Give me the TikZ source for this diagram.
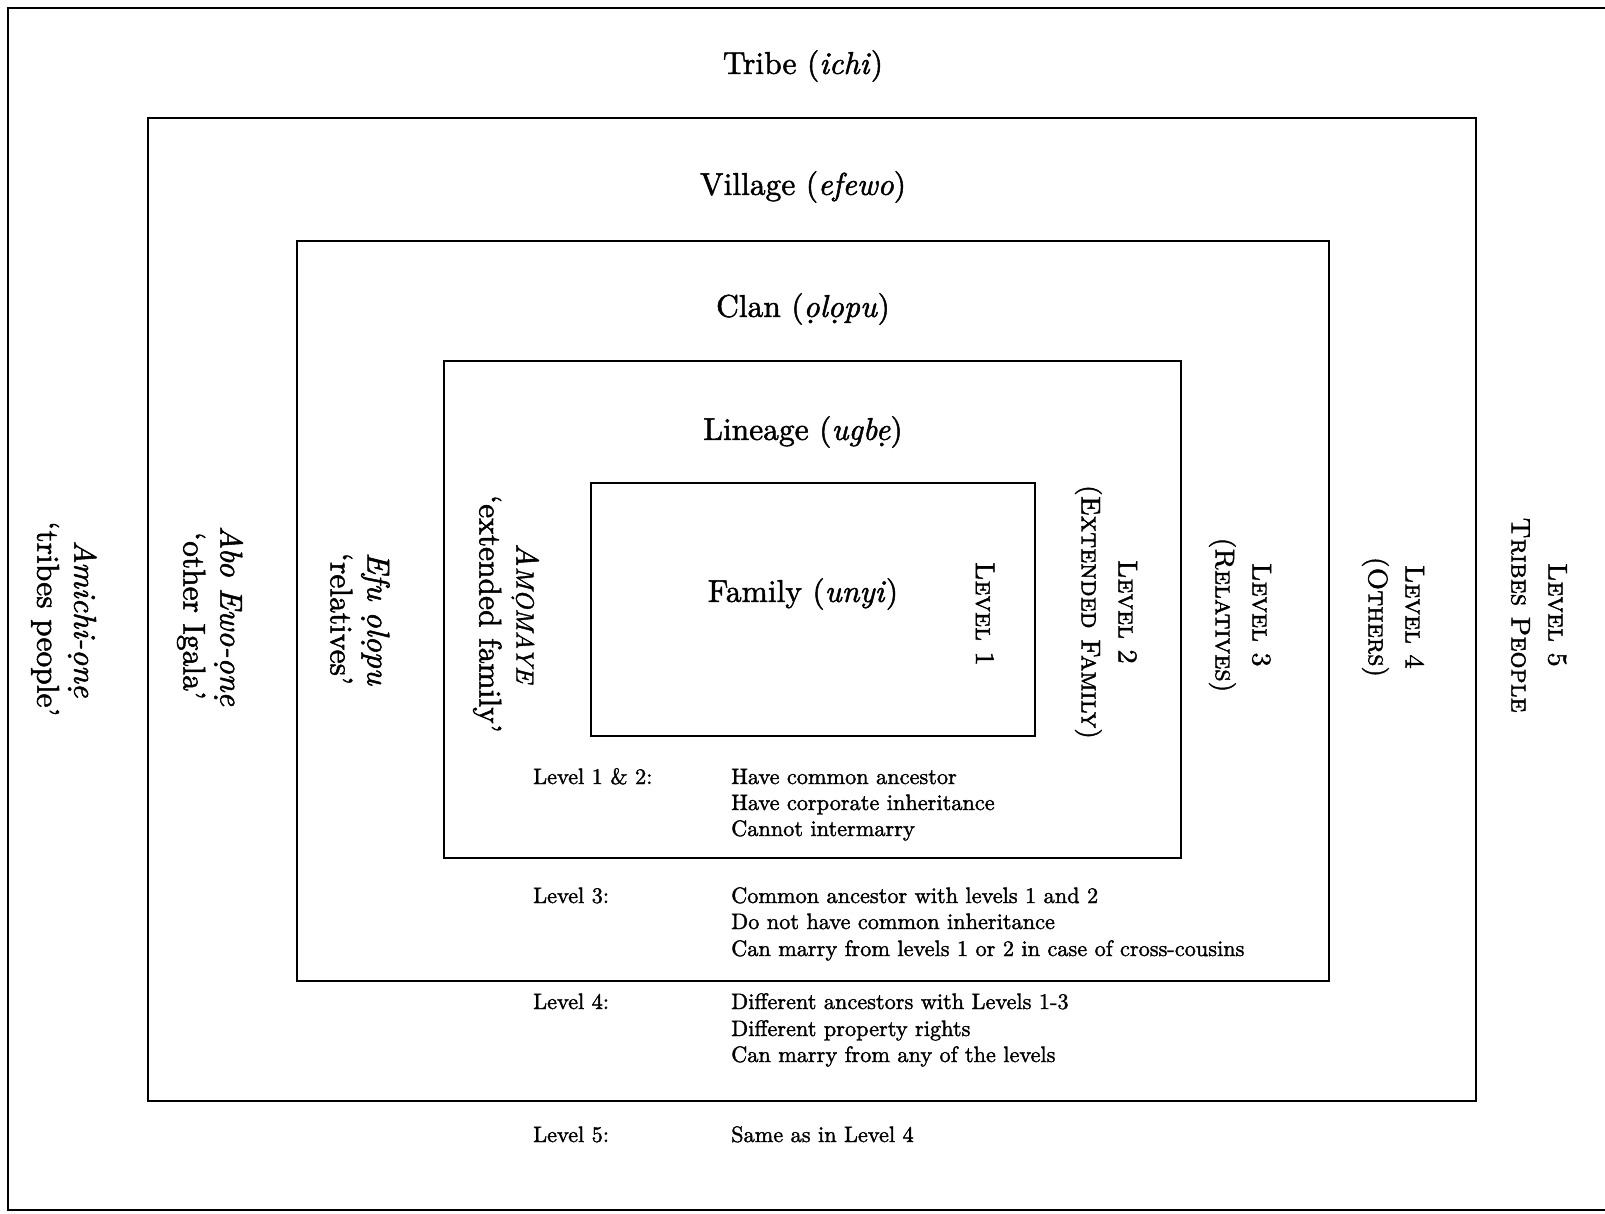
\documentclass[tikz,border=0pt]{standalone}
\usepackage{fontspec}
\setmainfont{lmroman10}[Extension=.otf, UprightFont=*-regular, ItalicFont=*-italic,
  BoldFont=*-bold, BoldItalicFont=*-bolditalic, SmallCapsFont=lmromancaps10-regular,
  FakeBold=1.6]
\begin{document}
\begin{tikzpicture}[x=1pt,y=-1pt,
  frame/.style={line width=2.2pt},
  ttl/.style={font=\fontsize{31.5}{38}\selectfont, inner sep=0pt},
  vlab/.style={font=\fontsize{31.5}{37}\selectfont, rotate=-90, align=center, inner sep=0pt},
  vlev/.style={font=\fontsize{27}{37}\selectfont, rotate=-90, align=center, inner sep=0pt},
  desc/.style={font=\fontsize{22.3}{27}\selectfont, inner sep=0pt, anchor=base west}]
\useasboundingbox (0,0) rectangle (1605,1213);
% outer frame (open at right)
\draw[frame] (1605,8) -- (8,8) -- (8,1210) -- (1605,1210);
% nested boxes
\draw[frame] (148,118) rectangle (1476,1101);
\draw[frame] (297,241) rectangle (1329,981);
\draw[frame] (444,361) rectangle (1181,858);
\draw[frame] (591,483) rectangle (1035,736);
% titles
\node[ttl] (tribe) at (803,66) {Tribe (\textit{ichi})};
\node[ttl] (village) at (803,187) {Village (\textit{efewo})};
\node[ttl] (clan) at (803,309) {Clan (\textit{ọlọpu})};
\node[ttl] (lineage) at (803,432) {Lineage (\textit{ugbẹ})};
\node[ttl] (family) at (803,594) {Family (\textit{unyi})};
% left vertical labels
\node[vlab] (amichi) at (64,619) {\textit{Amichi-ọnẹ}\\`tribes people'};
\node[vlab] (abo) at (210,616) {\textit{Abo Ewo-ọnẹ}\\`other Igala'};
\node[vlab] (efu) at (360,619) {\textit{Efu ọlọpu}\\`relatives'};
\node[vlab] (amomaye) at (506,614) {\textit{A{\fontsize{25}{28}\selectfont MỌMAYE}}\\`extended family'};
% right vertical labels
\node[vlev] (lev1) at (985,614) {\textsc{Level 1}};
\node[vlev] (lev2) at (1106,612) {\textsc{Level 2}\\(\textsc{Extended Family})};
\node[vlev] (lev3) at (1240,615) {\textsc{Level 3}\\(\textsc{Relatives})};
\node[vlev] (lev4) at (1393,617) {\textsc{Level 4}\\(\textsc{Others})};
\node[vlev] (lev5) at (1539,615) {\textsc{Level 5}\\\textsc{Tribes People}};
% descriptions
\node[desc] (d12) at (533,784) {Level 1 \& 2:};
\node[desc] (d12a) at (731,784) {Have common ancestor};
\node[desc] (d12b) at (731,810) {Have corporate inheritance};
\node[desc] (d12c) at (731,836) {Cannot intermarry};
\node[desc] (d3) at (533,903) {Level 3:};
\node[desc] (d3a) at (731,903) {Common ancestor with levels 1 and 2};
\node[desc] (d3b) at (731,929) {Do not have common inheritance};
\node[desc] (d3c) at (731,956) {Can marry from levels 1 or 2 in case of cross-cousins};
\node[desc] (d4) at (533,1009) {Level 4:};
\node[desc] (d4a) at (731,1009) {Different ancestors with Levels 1-3};
\node[desc] (d4b) at (731,1036) {Different property rights};
\node[desc] (d4c) at (731,1062) {Can marry from any of the levels};
\node[desc] (d5) at (533,1142) {Level 5:};
\node[desc] (d5a) at (731,1142) {Same as in Level 4};
\end{tikzpicture}
\end{document}
